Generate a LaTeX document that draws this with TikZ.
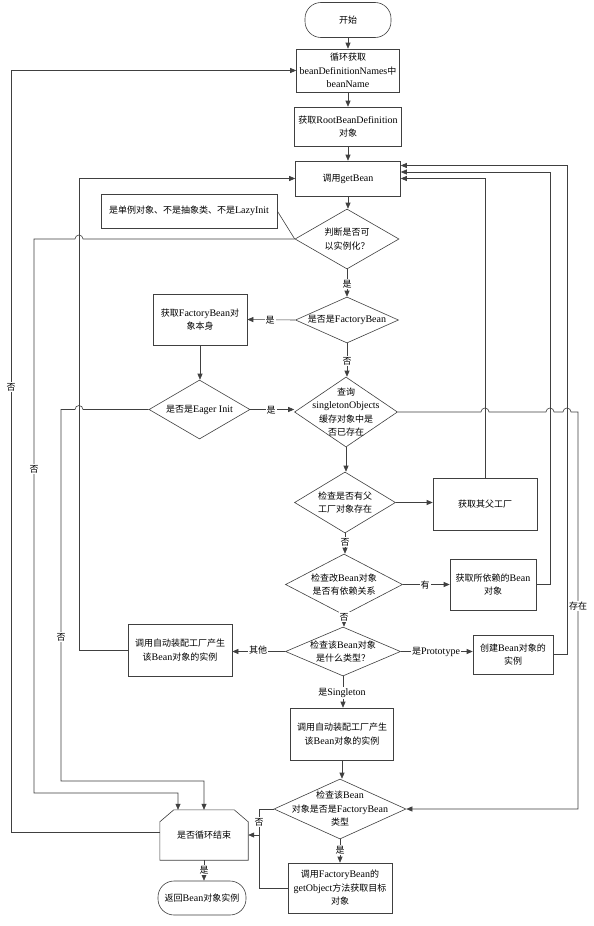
\documentclass[tikz,border=0pt]{standalone}
\usepackage{fontspec}
\setmainfont{Liberation Serif}
\newfontfamily\cjk{Noto Sans CJK SC}[Scale=0.9]
\newcommand\zh[1]{{\cjk #1}}
\usetikzlibrary{arrows.meta,shapes.geometric,calc}
\definecolor{linec}{gray}{0.25}
\begin{document}
\begin{tikzpicture}[x=1pt,y=-1pt,
  every node/.style={font=\fontsize{10}{13.5}\selectfont, align=center, inner sep=0pt, text=black},
  box/.style={draw=linec, rectangle, line width=0.6pt},
  term/.style={box, rounded corners=16pt},
  dia/.style={draw=linec, diamond, line width=0.6pt, inner sep=0pt},
  conn/.style={draw=linec, line width=0.6pt},
  arr/.style={conn, -{Triangle[length=6pt,width=5pt]}},
  lbl/.style={fill=white, inner sep=1pt},
]
\fill[white] (0,0) rectangle (594,926);
\useasboundingbox (0,0) rectangle (594,926);

% rails
\coordinate (r0) at (11,0);
\coordinate (r1) at (34,0);
\coordinate (r2) at (61,0);
\coordinate (r3) at (79,0);
\coordinate (r4) at (259,0);
\coordinate (r5) at (550,0);
\coordinate (r6) at (567,0);
\coordinate (r7) at (578,0);
\coordinate (h1) at (0,793);
\coordinate (h2) at (0,781);

% nodes
\node[term, minimum width=86pt, minimum height=35pt] (start) at (348,20) {\zh{开始}};
\node[box, minimum width=103pt, minimum height=43pt] (loop) at (348,70.5) {\zh{循环获取}\\beanDefinitionNames\zh{中}\\beanName};
\node[box, minimum width=107pt, minimum height=39pt] (root) at (348,126.5) {\zh{获取}RootBeanDefinition\\\zh{对象}};
\node[box, minimum width=105pt, minimum height=35pt] (gb) at (348,178.5) {\zh{调用}getBean};
\node[box, minimum width=176pt, minimum height=34pt] (note) at (189,211) {\zh{是单例对象、不是抽象类、不是}LazyInit};

\node[dia, minimum width=104pt, minimum height=60pt] (d1) at (347,239) {};
\node (d1t) at (d1) {\zh{判断是否可}\\\zh{以实例化？}};
\node[dia, minimum width=103pt, minimum height=46pt] (d2) at (347,320) {};
\node (d2t) at (d2) {\zh{是否是}FactoryBean};
\node[box, minimum width=94pt, minimum height=51pt] (fbobj) at (200,319.5) {\zh{获取}FactoryBean\zh{对}\\\zh{象本身}};
\node[dia, minimum width=101pt, minimum height=59pt] (d3) at (199.5,409.5) {};
\node (d3t) at (d3) {\zh{是否是}Eager Init};
\node[dia, minimum width=103pt, minimum height=70pt] (d4) at (346,412) {};
\node (d4t) at (d4) {\zh{查询}\\singletonObjects\\\zh{缓存对象中是}\\\zh{否已存在}};
\node[dia, minimum width=101pt, minimum height=61pt] (d5) at (345,502.5) {};
\node (d5t) at (d5) {\zh{检查是否有父}\\\zh{工厂对象存在}};
\node[box, minimum width=104pt, minimum height=52pt] (parent) at (485,504) {\zh{获取其父工厂}};
\node[dia, minimum width=117pt, minimum height=61pt] (d6) at (344,584.5) {};
\node (d6t) at (d6) {\zh{检查改}Bean\zh{对象}\\\zh{是否有依赖关系}};
\node[box, minimum width=86pt, minimum height=51pt] (dep) at (493,584.5) {\zh{获取所依赖的}Bean\\\zh{对象}};
\node[dia, minimum width=115pt, minimum height=49pt] (d7) at (343,651.5) {};
\node (d7t) at (d7) {\zh{检查该}Bean\zh{对象}\\\zh{是什么类型？}};
\node[box, minimum width=104pt, minimum height=52pt] (other) at (180,650) {\zh{调用自动装配工厂产生}\\\zh{该}Bean\zh{对象的实例}};
\node[box, minimum width=80pt, minimum height=39pt] (proto) at (513,654.5) {\zh{创建}Bean\zh{对象的}\\\zh{实例}};
\node[box, minimum width=103pt, minimum height=52pt] (single) at (342,734) {\zh{调用自动装配工厂产生}\\\zh{该}Bean\zh{对象的实例}};
\node[dia, minimum width=132pt, minimum height=60pt] (d8) at (340,809) {};
\node (d8t) at (d8) {\zh{检查该}Bean\\\zh{对象是否是}FactoryBean\\\zh{类型}};
\node[minimum width=88pt, minimum height=50pt] (le) at (204,835) {\zh{是否循环结束}};
\draw[conn] (le.south west) -- ($(le.north west)+(0,12)$) -- ($(le.north west)+(14,0)$) -- ($(le.north east)+(-14,0)$) -- ($(le.north east)+(0,12)$) -- (le.south east) -- cycle;
\node[term, minimum width=88pt, minimum height=34pt] (ret) at (202,898) {\zh{返回}Bean\zh{对象实例}};
\node[box, minimum width=104pt, minimum height=50pt] (go) at (340,888) {\zh{调用}FactoryBean\zh{的}\\getObject\zh{方法获取目标}\\\zh{对象}};

\coordinate (le1) at ([xshift=-26pt]le.north);
\coordinate (gbm) at ([yshift=6.5pt]gb.east);
\coordinate (gbt) at ([yshift=13pt]gb.east);

% main column
\draw[arr] (start.south) -- (start.south |- loop.north);
\draw[arr] (loop.south) -- (loop.south |- root.north);
\draw[arr] (root.south) -- (root.south |- gb.north);
\draw[arr] (gb.south) -- (gb.south |- d1.north);
\draw[arr] (d1.south) -- (d1.south |- d2.north);
\draw[arr] (d2.west) -- (fbobj.east);
\draw[arr] (fbobj.south) -- (fbobj.south |- d3.north);
\draw[arr] (d3.east) -- (d3.east -| d4.west);
\draw[arr] (d2.south) -- (d2.south |- d4.north);
\draw[arr] (d4.south) -- (d4.south |- d5.north);
\draw[arr] (d5.east) -- (d5.east -| parent.west);
\draw[arr] (d5.south) -- (d5.south |- d6.north);
\draw[arr] (d6.east) -- (d6.east -| dep.west);
\draw[arr] (d6.south) -- (d6.south |- d7.north);
\draw[arr] (d7.west) -- (d7.west -| other.east);
\draw[arr] (d7.east) -- (d7.east -| proto.west);
\draw[arr] (d7.south) -- (d7.south |- single.north);
\draw[arr] (single.south) -- (single.south |- d8.north);
\draw[arr] (d8.south) -- (go.north);
\draw[arr] (le.south) -- (le.south |- ret.north);
\draw[conn] (note.east) -- (d1.west);

% loops back to getBean (right)
\draw[arr] (parent.north) |- (gb.east);
\draw[arr] (dep.east) -- (dep.east -| r5) -- (r5 |- gbm) -- (gbm);
\draw[arr] (proto.east) -- (proto.east -| r6) -- (r6 |- gbt) -- (gbt);

% exists path
\draw[arr] (d4.east) -- ([xshift=-4pt]d4.east -| parent.north) arc[start angle=180,end angle=0,radius=4pt]
  -- ([xshift=-4pt]d4.east -| r5) arc[start angle=180,end angle=0,radius=4pt]
  -- ([xshift=-4pt]d4.east -| r6) arc[start angle=180,end angle=0,radius=4pt]
  -- (d4.east -| r7) -- (r7 |- d8.east) -- (d8.east);

% left side
\draw[arr] (other.west) -- (other.west -| r3) -- (r3 |- gb.west) -- (gb.west);
\draw[arr] (d1.west) -- ([xshift=4pt]d1.west -| r3) arc[start angle=0,end angle=180,radius=4pt]
  -- (d1.west -| r1) -- (r1 |- h1) -| (le1);
\draw[arr] (d3.west) -- ([xshift=4pt]d3.west -| r3) arc[start angle=0,end angle=180,radius=4pt]
  -- (d3.west -| r2) -- (r2 |- h2) -| (le.north);
\draw[arr] ([yshift=3pt]le.west) -- ([yshift=3pt]le.west -| r0) -- (r0 |- loop.west) -- (loop.west);

% factory-bean result back to loop end
\draw[arr] (d8.west) -- (d8.west -| r4) -- (r4 |- le.east) -- (le.east);
\draw[conn] (go.west) -- (go.west -| r4) -- (r4 |- le.east);

% labels
\node[lbl] (l1) at (347,284) {\zh{是}};
\node[lbl] (l2) at (270,320) {\zh{是}};
\node[lbl] (l3) at (347,361) {\zh{否}};
\node[lbl] (l4) at (271,410) {\zh{是}};
\node[lbl] (l5) at (345,542) {\zh{否}};
\node[lbl] (l6) at (425,585) {\zh{有}};
\node[lbl] (l7) at (344,617) {\zh{否}};
\node[lbl] (l8) at (258,650) {\zh{其他}};
\node[lbl] (l9) at (436,652) {\zh{是}Prototype};
\node[lbl] (l10) at (342,693) {\zh{是}Singleton};
\node[lbl] (l11) at (578,606) {\zh{存在}};
\node[lbl] (l12) at (11,387) {\zh{否}};
\node[lbl] (l13) at (34,469) {\zh{否}};
\node[lbl] (l14) at (61,637) {\zh{否}};
\node[lbl] (l15) at (259,822) {\zh{否}};
\node[lbl] (l16) at (340,850) {\zh{是}};
\node[lbl] (l17) at (204,870) {\zh{是}};
\end{tikzpicture}
\end{document}
